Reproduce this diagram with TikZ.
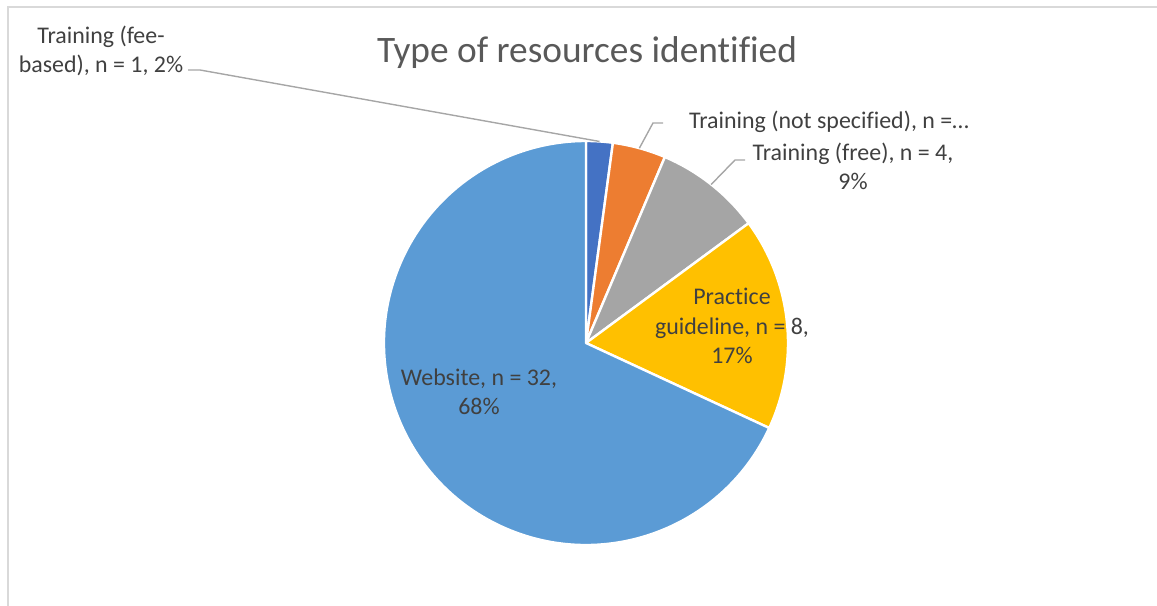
\documentclass[tikz,border=0pt]{standalone}
\usepackage{fontspec}
\setmainfont{Carlito}[Ligatures=CommonOff]
\definecolor{txt}{HTML}{404040}
\definecolor{ttl}{HTML}{595959}
\definecolor{leadc}{HTML}{A6A6A6}
\definecolor{framec}{HTML}{D9D9D9}
\definecolor{cfee}{HTML}{4472C4}
\definecolor{cnot}{HTML}{ED7D31}
\definecolor{cfree}{HTML}{A5A5A5}
\definecolor{cprac}{HTML}{FFC000}
\definecolor{cweb}{HTML}{5B9BD5}
\begin{document}
\begin{tikzpicture}[x=1bp,y=1bp,
  lbl/.style={text=txt, font=\fontsize{24}{29.5}\selectfont, align=center, inner sep=0pt},
  leader/.style={draw=leadc, line width=1.4bp},
  slice/.style={draw=white, line width=2.4bp, line join=round}]
\useasboundingbox (0,0) rectangle (1157,606);
\draw[framec, line width=1.3bp] (8,0) -- (8,599) -- (1157,599);
\coordinate (c) at (586,263);
\def\R{202}
\filldraw[fill=cfee, slice] (c) -- ++(90:\R) arc[start angle=90, end angle=82.34, radius=\R] -- cycle;
\filldraw[fill=cnot, slice] (c) -- ++(82.34:\R) arc[start angle=82.34, end angle=67.02, radius=\R] -- cycle;
\filldraw[fill=cfree, slice] (c) -- ++(67.02:\R) arc[start angle=67.02, end angle=36.38, radius=\R] -- cycle;
\filldraw[fill=cprac, slice] (c) -- ++(36.38:\R) arc[start angle=36.38, end angle=-24.89, radius=\R] -- cycle;
\filldraw[fill=cweb, slice] (c) -- ++(-24.89:\R) arc[start angle=-24.89, end angle=-270, radius=\R] -- cycle;
% title
\node[text=ttl, font=\fontsize{37.5}{44}\selectfont, inner sep=0pt] (title) at (587,553) {Type of resources identified};
% labels
\node[lbl] (feeL) at (101,555) {Training (fee-\\based), n = 1, 2\%};
\node[lbl] (notL) at (829,484) {Training (not specified), n =…};
\node[lbl] (freeL) at (853,439.5) {Training (free), n = 4,\\9\%};
\node[lbl] (pracL) at (732,280) {Practice\\guideline, n = 8,\\17\%};
\node[lbl] (webL) at (479,214) {Website, n = 32,\\68\%};
% leader lines
\path (c) ++(86.17:\R) coordinate (pfee);
\path (c) ++(74.68:\R) coordinate (pnot);
\path (c) ++(51.70:\R) coordinate (pfree);
\coordinate (feeK) at (200,536);
\coordinate (feeE) at (188,536);
\coordinate (notK) at (653,483);
\coordinate (notE) at (663,483);
\coordinate (freeK) at (735,446);
\coordinate (freeE) at (745,446);
\draw[leader] (pfee) -- (feeK) -- (feeE);
\draw[leader] (pnot) -- (notK) -- (notE);
\draw[leader] (pfree) -- (freeK) -- (freeE);
\end{tikzpicture}
\end{document}
